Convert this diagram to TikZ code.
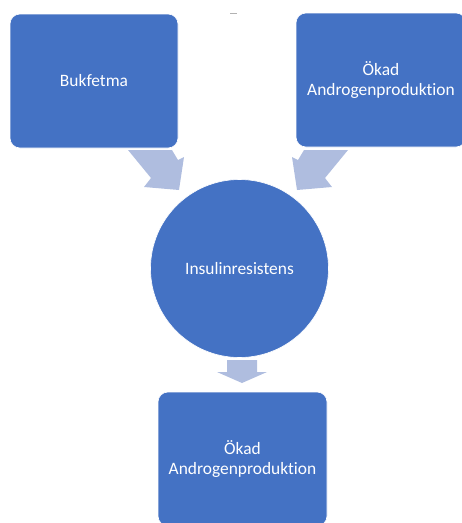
\documentclass[tikz,border=0pt]{standalone}
\usepackage{fontspec}
\setmainfont[Ligatures=NoCommon]{Carlito}
\definecolor{boxblue}{HTML}{4472C4}
\definecolor{arrowblue}{HTML}{AFBDDF}
\tikzset{
  blockbox/.style={fill=boxblue, draw=white, line width=0.6pt, rounded corners=10pt,
    text=white, align=center, inner sep=0pt,
    font=\fontsize{17.4}{20.5}\selectfont},
  blockcircle/.style={circle, fill=boxblue, draw=white, line width=0.6pt,
    text=white, inner sep=0pt, font=\fontsize{17.4}{20.5}\selectfont},
  blockarrow/.style={fill=arrowblue, draw=none}
}
\begin{document}
\begin{tikzpicture}[x=1pt,y=-1pt]
\useasboundingbox (0,0) rectangle (462,523);
\clip (0,0) rectangle (462,523);
% small dash at top
\draw[gray!60, line width=1pt] (230,13) -- (237,13);
% boxes
\node[blockbox, minimum width=168pt, minimum height=134pt] (bukfetma) at (94,81) {Bukfetma};
\node[blockbox, minimum width=170pt, minimum height=134pt] (andro1) at (381,80) {Ökad\\Androgenproduktion};
\node[blockcircle, minimum size=178pt] (insulin) at (239.5,268.5) {Insulinresistens};
\node[blockbox, minimum width=169pt, minimum height=134pt] (andro2) at (242.5,459) {Ökad\\Androgenproduktion};
% block arrows
\fill[blockarrow] (128,150) -- (172,150) -- (178,160) -- (184,157) -- (179,190) -- (144,187) -- (151,178) -- cycle;
\fill[blockarrow] (304,150) -- (348,150) -- (325,178) -- (332,187) -- (297,190) -- (292,157) -- (298,160) -- cycle;
\fill[blockarrow] (227,360) -- (257,360) -- (257,372) -- (267,372) -- (242,383) -- (217,372) -- (227,372) -- cycle;
\end{tikzpicture}
\end{document}
